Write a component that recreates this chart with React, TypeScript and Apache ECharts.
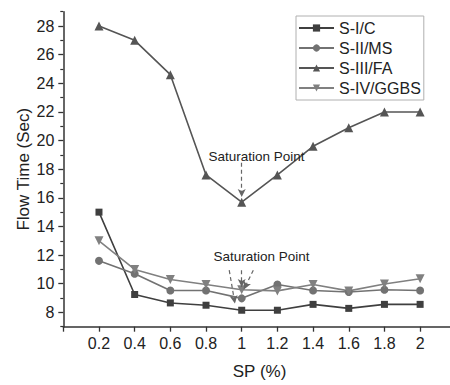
import React, { useEffect, useRef } from "react";
import * as echarts from "echarts";

const spValues = [0.2, 0.4, 0.6, 0.8, 1.0, 1.2, 1.4, 1.6, 1.8, 2.0];
const seriesNames = ["S-I/C", "S-II/MS", "S-III/FA", "S-IV/GGBS"];
const sIC = [15.0, 9.25, 8.66, 8.5, 8.15, 8.15, 8.56, 8.28, 8.56, 8.56];
const sIIMS = [11.6, 10.7, 9.53, 9.53, 8.98, 9.95, 9.53, 9.42, 9.58, 9.53];
const sIIIFA = [28.0, 27.0, 24.6, 17.6, 15.7, 17.6, 19.6, 20.9, 22.0, 22.0];
const sIVGGBS = [13.0, 11.0, 10.3, 9.95, 9.58, 9.5, 9.95, 9.5, 9.98, 10.35];
const yMajorTicks = [8, 10, 12, 14, 16, 18, 20, 22, 24, 26, 28];
const yMinorTicks = [7, 9, 11, 13, 15, 17, 19, 21, 23, 25, 27, 29];
const annotationText = "Saturation Point";
const upperLabelAt = [1.083, 18.89];
const upperArrows = [[[1.0, 18.45], [1.0, 16.05]]];
const lowerLabelAt = [1.111, 11.91];
const lowerArrows = [
  [[0.93, 10.95], [0.962, 8.62]],
  [[1.0, 10.95], [1.0, 9.78]],
  [[1.065, 10.95], [1.012, 9.6]],
];

const FONT = "'Liberation Sans', Arial, sans-serif";
const colors = ["#3f3f3f", "#727272", "#555555", "#808080"];
const symbols = ["rect", "circle", "triangle", "path://M0,0 L10,0 L5,9 Z"];

export default function App() {
  const ref = useRef<HTMLDivElement>(null);
  useEffect(() => {
    if (!ref.current) return;
    const chart = echarts.init(ref.current, undefined, { renderer: "svg" });
    const allData = [sIC, sIIMS, sIIIFA, sIVGGBS];
    const series: any[] = allData.map((vals, i) => ({
      name: seriesNames[i],
      type: "line",
      data: vals.map((v, j) => [spValues[j], v]),
      symbol: symbols[i],
      symbolSize: i === 1 ? 8 : i === 0 ? 7 : 9,
      showAllSymbol: true,
      itemStyle: { color: colors[i] },
      lineStyle: { color: colors[i], width: 1.6 },
      z: 3,
    }));
    const mkArrow = (a: number[][]) => [
      { coord: a[0], symbol: "none" },
      { coord: a[1], symbol: "arrow", symbolSize: [6, 8] },
    ];
    series[2].markLine = {
      silent: true,
      symbol: ["none", "arrow"],
      symbolSize: 7,
      lineStyle: { type: [4, 3], color: "#666", width: 1.2 },
      label: { show: false },
      itemStyle: { color: "#444" },
      data: upperArrows.map(mkArrow),
    };
    series[2].markPoint = {
      silent: true,
      symbol: "circle",
      symbolSize: 0,
      label: {
        show: true,
        position: "inside",
        formatter: annotationText,
        color: "#222",
        fontSize: 13.5,
        fontFamily: FONT,
      },
      data: [{ coord: upperLabelAt }],
    };
    series[0].markLine = {
      silent: true,
      symbol: ["none", "arrow"],
      symbolSize: 7,
      lineStyle: { type: [4, 3], color: "#666", width: 1.2 },
      label: { show: false },
      itemStyle: { color: "#333" },
      data: lowerArrows.map(mkArrow),
    };
    series[0].markPoint = {
      silent: true,
      symbol: "circle",
      symbolSize: 0,
      label: {
        show: true,
        position: "inside",
        formatter: annotationText,
        color: "#222",
        fontSize: 13.5,
        fontFamily: FONT,
      },
      data: [{ coord: lowerLabelAt }],
    };

    chart.setOption({
      animation: false,
      backgroundColor: "#ffffff",
      textStyle: { fontFamily: FONT },
      grid: {
        left: 63.3,
        right: -5.8,
        top: 11.7,
        bottom: 58.3,
        containLabel: false,
        outerBoundsMode: "none",
      },
      legend: {
        orient: "vertical",
        left: 296,
        top: 16,
        data: seriesNames,
        itemWidth: 35,
        itemHeight: 9,
        itemGap: 4,
        padding: [4, 3, 4, 2],
        borderColor: "#b0b0b0",
        borderWidth: 1,
        backgroundColor: "#fff",
        textStyle: { fontSize: 16, color: "#222", fontFamily: FONT },
      },
      xAxis: {
        type: "value",
        min: 0,
        max: 2.2,
        interval: 0.2,
        name: "SP (%)",
        nameLocation: "middle",
        nameGap: 36,
        nameMoveOverlap: false,
        nameTextStyle: { fontSize: 17, color: "#222", fontFamily: FONT },
        axisLine: { lineStyle: { color: "#333", width: 1.5 } },
        axisTick: { show: true, length: 5, lineStyle: { color: "#333", width: 1.3 } },
        axisLabel: {
          fontSize: 16,
          color: "#222",
          margin: 9,
          showMinLabel: true,
          showMaxLabel: true,
          formatter: (v: number) =>
            v < 0.1 || v > 2.1 ? "" : String(parseFloat(v.toFixed(1))),
        },
        splitLine: { show: false },
      },
      yAxis: [
        {
          type: "value",
          min: 7,
          max: 29,
          name: "Flow Time (Sec)",
          nameLocation: "middle",
          nameGap: 31,
          nameMoveOverlap: false,
          nameTextStyle: { fontSize: 17, color: "#222", fontFamily: FONT },
          axisLine: { show: true, lineStyle: { color: "#333", width: 1.5 } },
          axisTick: {
            show: true,
            length: 5,
            customValues: yMajorTicks,
            lineStyle: { color: "#333", width: 1.3 },
          },
          axisLabel: {
            fontSize: 16,
            color: "#222",
            margin: 9,
            customValues: yMajorTicks,
          },
          splitLine: { show: false },
        },
        {
          type: "value",
          min: 7,
          max: 29,
          position: "left",
          axisLine: { show: false },
          axisTick: {
            show: true,
            length: 3,
            customValues: yMinorTicks,
            lineStyle: { color: "#333", width: 1.2 },
          },
          axisLabel: { show: false },
          splitLine: { show: false },
        },
      ],
      series,
    });
    return () => chart.dispose();
  }, []);
  return (
    <div
      ref={ref}
      style={{ position: "fixed", left: 0, top: 0, width: 450, height: 385 }}
    />
  );
}
